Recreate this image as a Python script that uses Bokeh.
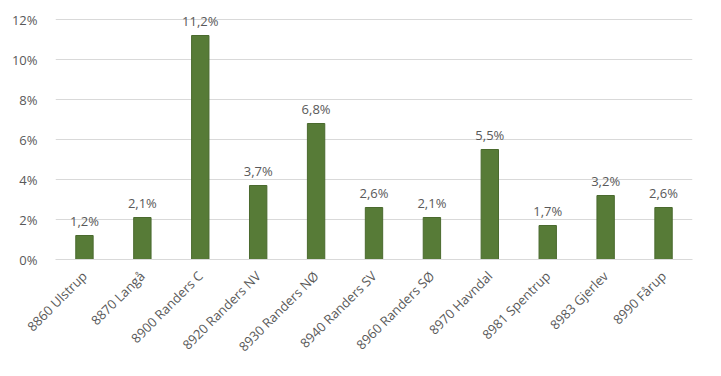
import math
from bokeh.plotting import figure
from bokeh.models import ColumnDataSource, FixedTicker, Range1d
from bokeh.core.properties import value
from bokeh.embed import file_html
from bokeh.resources import INLINE

categories = ["8860 Ulstrup", "8870 Langå", "8900 Randers C", "8920 Randers NV",
              "8930 Randers NØ", "8940 Randers SV", "8960 Randers SØ", "8970 Havndal",
              "8981 Spentrup", "8983 Gjerlev", "8990 Fårup"]
values = [1.2, 2.1, 11.2, 3.7, 6.8, 2.6, 2.1, 5.5, 1.7, 3.2, 2.6]
labels = ["1,2%", "2,1%", "11,2%", "3,7%", "6,8%", "2,6%", "2,1%", "5,5%", "1,7%", "3,2%", "2,6%"]
y_ticks = [0, 2, 4, 6, 8, 10, 12]
y_tick_labels = ["0%", "2%", "4%", "6%", "8%", "10%", "12%"]

src = ColumnDataSource(dict(cat=categories, val=values, lab=labels))

FONT = "Open Sans"
GREY = "#595959"

p = figure(x_range=categories, y_range=Range1d(0, 12.5), width=713, height=368,
           output_backend="svg", toolbar_location=None,
           min_border_left=55, min_border_right=21, min_border_top=9, min_border_bottom=109)
p.outline_line_color = None
p.background_fill_color = "white"
p.border_fill_color = "white"

p.vbar(x="cat", top="val", width=0.3, source=src, fill_color="#577b37",
       line_color="#4a6a2e", line_width=1)
p.text(x="cat", y="val", text="lab", source=src, text_align="center",
       text_baseline="bottom", y_offset=-6, text_font=value(FONT),
       text_font_size="13px", text_color=GREY)

p.xgrid.grid_line_color = None
p.ygrid.grid_line_color = "#d9d9d9"
p.ygrid.grid_line_width = 1
p.yaxis.ticker = FixedTicker(ticks=y_ticks)
p.yaxis.major_label_overrides = {t: l for t, l in zip(y_ticks, y_tick_labels)}
p.yaxis.axis_line_color = None
p.yaxis.major_tick_line_color = None
p.yaxis.minor_tick_line_color = None
p.yaxis.major_label_text_font = FONT
p.yaxis.major_label_text_font_size = "13px"
p.yaxis.major_label_text_color = GREY
p.yaxis.major_label_standoff = 12

p.xaxis.axis_line_color = "#d9d9d9"
p.xaxis.major_tick_line_color = None
p.xaxis.minor_tick_line_color = None
p.xaxis.major_label_orientation = math.pi / 4
p.xaxis.major_label_text_font = FONT
p.xaxis.major_label_text_font_size = "13px"
p.xaxis.major_label_text_color = GREY
p.xaxis.major_label_standoff = 8
p.x_range.range_padding = 0

open("out.html", "w").write(file_html(p, INLINE))
